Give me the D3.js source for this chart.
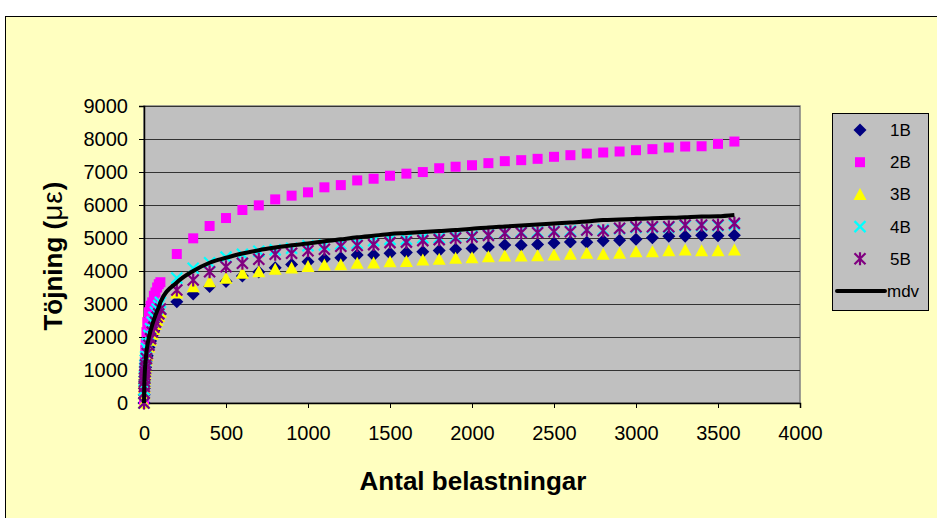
<!DOCTYPE html>
<html>
<head>
<meta charset="utf-8">
<script src="https://cdn.jsdelivr.net/npm/d3@7/dist/d3.min.js"></script>
<style>
body { margin: 0; background: #fff; }
svg { display: block; font-family: "Liberation Sans", Arial, sans-serif; }
</style>
</head>
<body>
<svg id="chart" width="937" height="518"></svg>
<script>
// load cycles (x)
var cycles = [0, 1, 2, 3, 4, 5, 6, 8, 10, 15, 20, 30, 40, 50, 60, 70, 80, 90, 100,
  200, 300, 400, 500, 600, 700, 800, 900, 1000, 1100, 1200, 1300, 1400, 1500, 1600, 1700, 1800,
  1900, 2000, 2100, 2200, 2300, 2400, 2500, 2600, 2700, 2800, 2900, 3000, 3100, 3200, 3300, 3400, 3500, 3600];

var s1B = [0, 250, 450, 600, 700, 800, 880, 980, 1080, 1280, 1430, 1680, 1880, 2050, 2200, 2350, 2480, 2600, 2700,
  3070, 3300, 3530, 3680, 3850, 3970, 4100, 4200, 4280, 4360, 4400, 4485, 4485, 4535, 4560, 4586, 4620,
  4656, 4680, 4730, 4790, 4780, 4800, 4850, 4880, 4869, 4915, 4935, 4960, 5010, 5050, 5050, 5080, 5070, 5085];

var s2B = [0, 450, 750, 950, 1100, 1250, 1400, 1600, 1800, 2150, 2450, 2750, 2950, 3050, 3250, 3350, 3500, 3600, 3660,
  4516, 4990, 5363, 5605, 5848, 5990, 6170, 6283, 6384, 6536, 6603, 6745, 6796, 6887, 6950, 6998, 7114,
  7160, 7205, 7268, 7329, 7359, 7399, 7460, 7510, 7560, 7591, 7621, 7661, 7692, 7742, 7772, 7780, 7853, 7923];

var s3B = [0, 280, 480, 620, 720, 820, 900, 1000, 1100, 1300, 1450, 1700, 1900, 2080, 2230, 2380, 2500, 2620, 2750,
  3330, 3525, 3677, 3778, 3929, 3980, 4050, 4090, 4133, 4182, 4190, 4232, 4240, 4283, 4290, 4333, 4355,
  4385, 4400, 4434, 4455, 4455, 4465, 4485, 4505, 4535, 4505, 4535, 4586, 4586, 4616, 4636, 4616, 4616, 4636];

var s4B = [0, 400, 650, 800, 950, 1050, 1150, 1300, 1400, 1650, 1800, 2050, 2250, 2450, 2600, 2750, 2850, 2950, 3050,
  3788, 4081, 4250, 4420, 4510, 4600, 4640, 4687, 4768, 4788, 4818, 4838, 4919, 4959, 4959, 5010, 5010,
  5040, 5060, 5100, 5160, 5180, 5190, 5210, 5220, 5250, 5250, 5280, 5320, 5320, 5320, 5370, 5370, 5370, 5400];

var s5B = [0, 300, 500, 650, 750, 850, 950, 1050, 1150, 1350, 1500, 1750, 1950, 2150, 2300, 2450, 2600, 2700, 2850,
  3424, 3727, 3980, 4131, 4232, 4354, 4505, 4535, 4616, 4660, 4750, 4770, 4800, 4860, 4875, 4920, 4950,
  5000, 5030, 5080, 5141, 5162, 5162, 5192, 5192, 5242, 5222, 5293, 5343, 5343, 5343, 5394, 5394, 5394, 5444];

var mdv = [0, 340, 570, 720, 840, 950, 1050, 1190, 1300, 1550, 1730, 1990, 2190, 2360, 2520, 2660, 2790, 2900, 3050,
  3650, 4000, 4250, 4400, 4530, 4630, 4710, 4780, 4830, 4900, 4960, 5020, 5070, 5120, 5150, 5180, 5210,
  5240, 5280, 5320, 5350, 5380, 5410, 5440, 5470, 5500, 5545, 5560, 5580, 5600, 5610, 5630, 5650, 5660, 5700];

var seriesNames = ["1B", "2B", "3B", "4B", "5B"];
var seriesValues = [s1B, s2B, s3B, s4B, s5B];
var seriesColors = ["#000080", "#FF00FF", "#FFFF00", "#00FFFF", "#800080"];
var xTicks = [0, 500, 1000, 1500, 2000, 2500, 3000, 3500, 4000];
var yTicks = [0, 1000, 2000, 3000, 4000, 5000, 6000, 7000, 8000, 9000];

var svg = d3.select("#chart"),
MARGINS = { top: 106, right: 137, bottom: 115, left: 144 },
WIDTH = 937,
HEIGHT = 518;

// chart area background
svg.append("rect")
.attr("x", 5.5).attr("y", 16.5)
.attr("width", 940).attr("height", 510)
.attr("fill", "#FFFFC0")
.attr("stroke", "#000")
.attr("stroke-width", 1);

var xScale = d3.scaleLinear()
.domain([0, 4000])
.range([MARGINS.left, WIDTH - MARGINS.right]);

var yScale = d3.scaleLinear()
.domain([0, 9000])
.range([HEIGHT - MARGINS.bottom, MARGINS.top]);

// plot area
svg.append("rect")
.attr("x", xScale(0)).attr("y", yScale(9000))
.attr("width", xScale(4000) - xScale(0))
.attr("height", yScale(0) - yScale(9000))
.attr("fill", "#C0C0C0")
.attr("stroke", "#808080")
.attr("stroke-width", 1.5);

// gridlines
svg.append("g")
.selectAll("line")
.data(yTicks.filter(function (d) { return d > 0; }))
.join("line")
.attr("x1", xScale(0)).attr("x2", xScale(4000))
.attr("y1", function (d) { return Math.round(yScale(d)) + 0.5; })
.attr("y2", function (d) { return Math.round(yScale(d)) + 0.5; })
.attr("stroke", "#333")
.attr("stroke-width", 1);

var xAxis = d3.axisBottom(xScale).tickValues(xTicks).tickFormat(d3.format("d")).tickSize(5).tickPadding(18);
var yAxis = d3.axisLeft(yScale).tickValues(yTicks).tickFormat(d3.format("d")).tickSize(5).tickPadding(11);

var gx = svg.append("g")
.attr("transform", "translate(0," + yScale(0) + ")")
.call(xAxis);
var gy = svg.append("g")
.attr("transform", "translate(" + xScale(0) + ",0)")
.call(yAxis);

[gx, gy].forEach(function (g) {
  g.select(".domain").attr("stroke", "#000").attr("stroke-width", 1.5);
  g.selectAll(".tick line").attr("stroke", "#000");
  g.selectAll(".tick text")
  .attr("fill", "#000")
  .style("font-family", "'Liberation Sans', Arial, sans-serif")
  .style("font-size", "20px");
});

svg.append("text")
.attr("x", 473).attr("y", 490)
.style("text-anchor", "middle")
.style("font-size", "26px")
.style("font-weight", "bold")
.text("Antal belastningar");

var ylab = svg.append("text")
.attr("transform", "translate(62,256) rotate(-90)")
.style("text-anchor", "middle")
.style("font-size", "26px")
.style("font-weight", "bold");
ylab.append("tspan").text("Töjning (");
ylab.append("tspan").style("font-weight", "normal").style("font-size", "28px").attr("letter-spacing", "1px").text("με");
ylab.append("tspan").text(")");

// marker shapes
function markerPath(i) {
  if (i === 0) return "M0,-6.5L6.5,0L0,6.5L-6.5,0Z";
  if (i === 1) return "M-5,-5H5V5H-5Z";
  if (i === 2) return "M0,-6.5L6.5,5.5L-6.5,5.5Z";
  if (i === 3) return "M-5.5,-5.5L5.5,5.5M-5.5,5.5L5.5,-5.5";
  return "M-5.5,-5.5L5.5,5.5M-5.5,5.5L5.5,-5.5M0,-6.5V6.5";
}

function drawMarker(sel, i) {
  var filled = i < 3;
  sel.append("path")
  .attr("d", markerPath(i))
  .attr("fill", filled ? seriesColors[i] : "none")
  .attr("stroke", seriesColors[i])
  .attr("stroke-width", filled ? 0 : 2.2);
}

seriesValues.forEach(function (vals, i) {
  var g = svg.append("g");
  vals.forEach(function (v, j) {
    var m = g.append("g")
    .attr("transform", "translate(" + xScale(cycles[j]) + "," + yScale(v) + ")");
    drawMarker(m, i);
  });
});

var lineGen = d3.line()
.x(function (d, j) { return xScale(cycles[j]); })
.y(function (d) { return yScale(d); })
.curve(d3.curveMonotoneX);

svg.append("path")
.attr("d", lineGen(mdv))
.attr("fill", "none")
.attr("stroke", "#000")
.attr("stroke-width", 4)
.attr("stroke-linejoin", "round");

// legend
var legend = svg.append("g");
legend.append("rect")
.attr("x", 832.5).attr("y", 113.5)
.attr("width", 96).attr("height", 197)
.attr("fill", "#C0C0C0")
.attr("stroke", "#000")
.attr("stroke-width", 1);

seriesNames.concat(["mdv"]).forEach(function (name, i) {
  var y = 130 + i * 32.2;
  if (i < 5) {
    var m = legend.append("g").attr("transform", "translate(860," + y + ")");
    drawMarker(m, i);
  } else {
    legend.append("line")
    .attr("x1", 837).attr("x2", 885)
    .attr("y1", y).attr("y2", y)
    .attr("stroke", "#000").attr("stroke-width", 4)
    .attr("stroke-linecap", "round");
  }
  legend.append("text")
  .attr("x", i < 5 ? 890 : 887).attr("y", y + 6)
  .style("font-size", "17px")
  .text(name);
});
</script>
</body>
</html>
